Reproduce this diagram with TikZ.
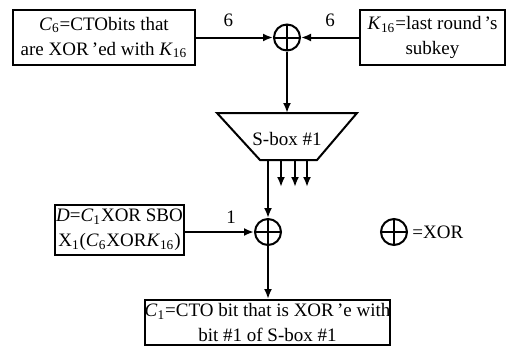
\documentclass[tikz,border=0pt]{standalone}
\usepackage{fontspec}
\setmainfont{Liberation Serif}
\usetikzlibrary{arrows.meta}
\newcommand{\desSub}[1]{\textsubscript{#1}}

\begin{document}
\begin{tikzpicture}[x=0.5pt, y=-0.5pt,
    desBoxStyle/.style={draw, line width=1pt, align=center, inner sep=0pt,
        font=\fontsize{9.5}{12.5}\selectfont},
    desXorStyle/.style={draw, circle, line width=1pt, minimum size=13pt, inner sep=0pt,
        path picture={\draw[line width=1pt]
            (path picture bounding box.north) -- (path picture bounding box.south)
            (path picture bounding box.west) -- (path picture bounding box.east);}},
    desLineStyle/.style={line width=1pt, -{Latex[length=5pt, width=4pt]}},
    desLabelStyle/.style={font=\fontsize{9.5}{11}\selectfont, inner sep=1pt}
]
    \useasboundingbox (0,0) rectangle (508,354);

    % 输入框
    \node[desBoxStyle, minimum width=91pt, minimum height=27.5pt] (c6box) at (104,37.5)
        {\textit{C}\desSub{6}=CTObits that\\are XOR\,’ed with \textit{K}\desSub{16}};
    \node[desBoxStyle, minimum width=72.5pt, minimum height=27.5pt] (k16box) at (432.5,37.5)
        {\textit{K}\desSub{16}=last round\,’s\\subkey};

    % 上方异或
    \node[desXorStyle] (xortop) at (287,37.5) {};
    \draw[desLineStyle] (c6box.east) -- node[desLabelStyle, above=4pt, pos=0.42] (sixL) {6} (xortop.west);
    \draw[desLineStyle] (k16box.west) -- node[desLabelStyle, above=4pt, pos=0.5] (sixR) {6} (xortop.east);

    % S 盒
    \coordinate (sboxN) at (287,113);
    \coordinate (sboxOut) at (268,160);
    \draw[line width=1pt] (217,113) -- (357,113) -- (317,160) -- (260,160) -- cycle;
    \node[desLabelStyle] (sboxL) at (287,139) {S-box \#1};
    \draw[desLineStyle] (xortop.south) -- (sboxN);
    \foreach \x in {281,295,307}
        \draw[desLineStyle] (\x,160) -- (\x,187);

    % 下方异或
    \node[desXorStyle] (xorbot) at (268,232) {};
    \node[desBoxStyle, minimum width=64.5pt, minimum height=25pt] (dbox) at (119.5,230)
        {\textit{D}=\textit{C}\desSub{1}XOR SBO\\X\desSub{1}(\textit{C}\desSub{6}XOR\textit{K}\desSub{16})};
    \draw[desLineStyle] (sboxOut) -- (xorbot.north);
    \draw[desLineStyle] (dbox.east |- xorbot) -- node[desLabelStyle, above=3pt, pos=0.67] (oneL) {1} (xorbot.west);

    % 图例
    \node[desXorStyle] (xorkey) at (394,232) {};
    \node[desLabelStyle, right=1pt] (xorkeyL) at (xorkey.east) {=XOR};

    % 输出框
    \node[desBoxStyle, minimum width=122.5pt, minimum height=22.5pt] (c1box) at (267.5,322.5)
        {\textit{C}\desSub{1}=CTO bit that is XOR\,’e with\\bit \#1 of S-box \#1};
    \draw[desLineStyle] (xorbot.south) -- (c1box.north -| xorbot);
\end{tikzpicture}
\end{document}
